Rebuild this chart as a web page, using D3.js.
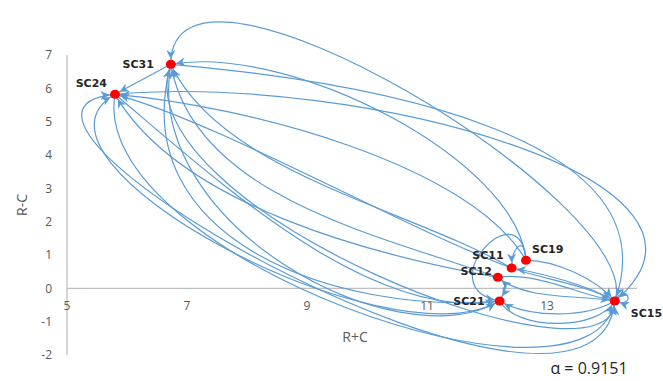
<!DOCTYPE html>
<html lang="en">
<head>
<meta charset="UTF-8">
<title>Influential relation map</title>
<script src="https://d3js.org/d3.v7.min.js"></script>
<style>
  body { margin: 0; background: #fff; }
  svg { display: block; font-family: "Open Sans", "Liberation Sans", sans-serif; }
  .tick-label { fill: #595959; font-size: 12px; }
  .node-label { fill: #262626; font-size: 11px; font-weight: bold; font-family: "DejaVu Sans", sans-serif; }
  .axis-title { fill: #595959; font-size: 14px; }
</style>
</head>
<body>
<svg id="chart" width="663" height="381"></svg>
<script>
// node coordinates (R+C, R-C)
const nodeNames = ["SC31", "SC24", "SC19", "SC11", "SC12", "SC21", "SC15"];
const rPlusC    = [6.73, 5.80, 12.65, 12.41, 12.18, 12.21, 14.13];
const rMinusC   = [6.72, 5.82, 0.84, 0.61, 0.33, -0.38, -0.38];

const xTicks = [5, 7, 9, 11, 13];
const yTicks = [-2, -1, 0, 1, 2, 3, 4, 5, 6, 7];
const alphaText = "α = 0.9151";

// influence arrows: source, target, leaving angle, pull, arriving angle, pull
const links = [
  ["SC15", "SC31", -70, .2, -90, .3],
  ["SC19", "SC31", -95, .25, -10, .3],
  ["SC11", "SC31", -150, .3, 65, .3],
  ["SC21", "SC31", 175, .4, 105, .45],
  ["SC12", "SC31", -160, .3, 80, .35],
  ["SC31", "SC24", 0, 0, 0, 0],
  ["SC15", "SC24", 95, .35, 175, .35],
  ["SC21", "SC24", 150, .3, 150, .3],
  ["SC12", "SC24", -170, .3, 60, .3],
  ["SC19", "SC24", -120, .25, 5, .3],
  ["SC11", "SC24", -160, .25, 15, .25],
  ["SC24", "SC15", -5, .45, -40, .35],
  ["SC31", "SC15", 5, .4, -70, .35],
  ["SC11", "SC15", 20, .3, -150, .3],
  ["SC12", "SC15", -10, .3, -170, .3],
  ["SC21", "SC15", 60, .3, 120, .3],
  ["SC19", "SC15", 0, .3, -130, .3],
  ["SC24", "SC15", 100, .3, 100, .25],
  ["SC31", "SC15", 110, .3, 90, .2],
  ["SC12", "SC21", 30, .5, -60, .5],
  ["SC24", "SC21", 40, .3, 170, .3],
  ["SC31", "SC21", 100, .4, 150, .3],
  ["SC15", "SC21", 150, .3, 30, .3],
  ["SC19", "SC21", -95, 1.5, 190, 1.5],
  ["SC19", "SC11", -90, 1.2, -90, 1.2],
  ["SC15", "SC11", -150, .3, 10, .3],
  ["SC15", "SC12", -170, .3, 40, .3],
  ["SC15", "SC15", -60, 1.2, 20, 1.2]
];

const svg = d3.select("#chart");

const x = d3.scaleLinear().domain([5, 14]).range([67, 607]);
const y = d3.scaleLinear().domain([-2, 7]).range([355, 55]);

const nodes = nodeNames.map((name, i) => ({ name, x: x(rPlusC[i]), y: y(rMinusC[i]) }));
const byName = new Map(nodes.map(n => [n.name, n]));

// axes
svg.append("line")
  .attr("x1", x(5)).attr("x2", x(5))
  .attr("y1", y(7)).attr("y2", y(-2))
  .attr("stroke", "#c8c8c8").attr("stroke-width", 1.5);
svg.append("line")
  .attr("x1", x(5)).attr("x2", 637)
  .attr("y1", y(0)).attr("y2", y(0))
  .attr("stroke", "#bfbfbf").attr("stroke-width", 1.2);

svg.selectAll("text.ytick")
  .data(yTicks)
  .join("text")
  .attr("class", "tick-label ytick")
  .attr("x", x(5) - 15)
  .attr("y", d => y(d))
  .attr("dy", "0.35em")
  .attr("text-anchor", "end")
  .text(d => d);

svg.selectAll("text.xtick")
  .data(xTicks)
  .join("text")
  .attr("class", "tick-label xtick")
  .attr("x", d => x(d))
  .attr("y", y(0) + 17)
  .attr("dy", "0.35em")
  .attr("text-anchor", "middle")
  .text(d => d);

svg.append("text")
  .attr("class", "axis-title")
  .attr("transform", `translate(27, ${y(2.5)}) rotate(-90)`)
  .attr("text-anchor", "middle")
  .text("R-C");

svg.append("text")
  .attr("class", "axis-title")
  .attr("x", 355).attr("y", 342)
  .attr("text-anchor", "middle")
  .text("R+C");

svg.append("text")
  .attr("x", 589).attr("y", 374)
  .attr("text-anchor", "middle")
  .attr("fill", "#262626")
  .style("font-size", "16px")
  .text(alphaText);

// arrow marker
svg.append("defs").append("marker")
  .attr("id", "arrow")
  .attr("viewBox", "0 0 10 10")
  .attr("refX", 16)
  .attr("refY", 5)
  .attr("markerWidth", 9)
  .attr("markerHeight", 9)
  .attr("markerUnits", "userSpaceOnUse")
  .attr("orient", "auto")
  .append("path")
  .attr("d", "M0,0 L10,5 L0,10 L3,5 Z")
  .attr("fill", "#5b9bd5");

const rad = a => a * Math.PI / 180;

function linkPath(l) {
  const s = byName.get(l[0]), t = byName.get(l[1]);
  const len = Math.max(Math.hypot(t.x - s.x, t.y - s.y), 20);
  const p = d3.path();
  p.moveTo(s.x, s.y);
  if (l[3] === 0 && l[5] === 0) {
    p.lineTo(t.x, t.y);
    return p.toString();
  }
  const c1x = s.x + Math.cos(rad(l[2])) * l[3] * len;
  const c1y = s.y + Math.sin(rad(l[2])) * l[3] * len;
  const c2x = t.x + Math.cos(rad(l[4])) * l[5] * len;
  const c2y = t.y + Math.sin(rad(l[4])) * l[5] * len;
  p.bezierCurveTo(c1x, c1y, c2x, c2y, t.x, t.y);
  return p.toString();
}

svg.append("g")
  .selectAll("path")
  .data(links)
  .join("path")
  .attr("d", linkPath)
  .attr("fill", "none")
  .attr("stroke", "#5b9bd5")
  .attr("stroke-width", 1.2)
  .attr("marker-end", "url(#arrow)");

svg.append("g")
  .selectAll("ellipse")
  .data(nodes)
  .join("ellipse")
  .attr("cx", d => d.x)
  .attr("cy", d => d.y)
  .attr("rx", 5)
  .attr("ry", 4.5)
  .attr("fill", "#ff0000");

const labelPos = {
  SC31: [-17, 4, "end"], SC24: [-8, -7, "end"], SC19: [6, -7, "start"],
  SC11: [-8, -9, "end"], SC12: [-6, -2, "end"], SC21: [-15, 4, "end"],
  SC15: [16, 16, "start"]
};
svg.append("g")
  .selectAll("text")
  .data(nodes)
  .join("text")
  .attr("class", "node-label")
  .attr("x", d => d.x + labelPos[d.name][0])
  .attr("y", d => d.y + labelPos[d.name][1])
  .attr("text-anchor", d => labelPos[d.name][2])
  .text(d => d.name);
</script>
</body>
</html>
